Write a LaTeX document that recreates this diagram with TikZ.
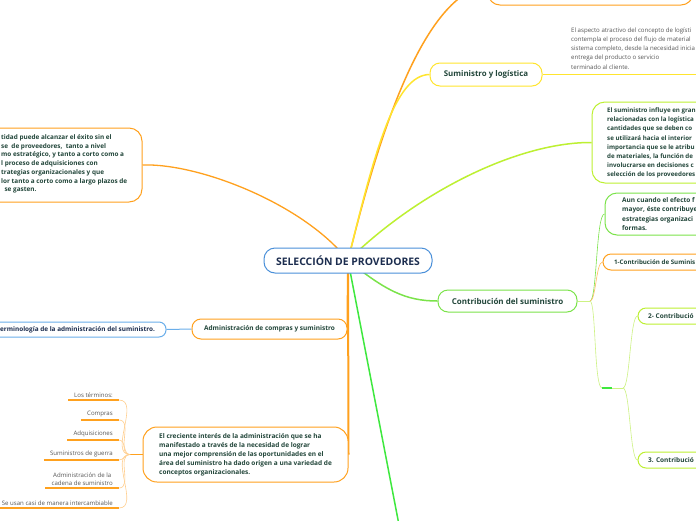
\documentclass[tikz,border=0pt]{standalone}
\usepackage{fontspec}
\setmainfont{Open Sans}
\usetikzlibrary{backgrounds}
\definecolor{orng}{HTML}{FFA11E}
\definecolor{lorng}{HTML}{FFCF8F}
\definecolor{yell}{HTML}{FFE52E}
\definecolor{lime}{HTML}{BDF032}
\definecolor{llime}{HTML}{CDF283}
\definecolor{grn}{HTML}{7BE34A}
\definecolor{brgrn}{HTML}{3EE83E}
\definecolor{cblue}{HTML}{4A90D9}
\definecolor{lblue}{HTML}{6AAEEA}
\definecolor{tgreen}{HTML}{22463A}
\definecolor{navy}{HTML}{1C2D4F}
\definecolor{tgray}{HTML}{555555}
\begin{document}
\begin{tikzpicture}[x=1pt,y=-1pt,
  box/.style={draw, fill=white, rounded corners=9pt, line width=1pt, inner sep=0pt},
  bt/.style={font=\fontsize{6.5}{9.2}\selectfont\bfseries, text=tgreen, align=left, inner sep=0pt},
  gt/.style={font=\fontsize{6.1}{9.2}\selectfont, text=tgray, align=left, inner sep=0pt},
  conn/.style={line width=1.5pt},
  thinc/.style={line width=0.6pt},
  item/.style={gt, inner xsep=6pt, inner ysep=2.5pt, anchor=south east,
    append after command={(\tikzlastnode.south west) edge[draw=orng, line width=1.3pt] (\tikzlastnode.south east)}},
]
\useasboundingbox (0,0) rectangle (696,520);

% central topic
\node[box, draw=cblue, text=navy, font=\fontsize{10.4}{12}\selectfont\bfseries,
  minimum width=168pt, minimum height=25pt, rounded corners=11pt] (c) at (348,260.5) {SELECCIÓN DE PROVEDORES};

% top-left box
\node[box, draw=orng, minimum width=202pt, minimum height=74pt, rounded corners=13pt] (b1) at (41,165) {};
\node[bt, anchor=west, font=\fontsize{6.4}{8.7}\selectfont\bfseries] (b1t) at (1,164) {tidad puede alcanzar el éxito sin el\\se\ \ de proveedores,\ \ tanto a nivel\\mo estratégico, y tanto a corto como a\\l proceso de adquisiciones con\\trategias organizacionales y que\\lor tanto a corto como a largo plazos de\\\ \ se gasten.};

% top box (cut)
\node[box, draw=orng, minimum width=205pt, minimum height=40pt, rounded corners=12pt] (tb) at (590.5,-15) {};

% Suministro y logistica
\node[box, draw=yell, text=tgreen, font=\fontsize{7.9}{9}\selectfont\bfseries,
  minimum width=112pt, minimum height=23pt, rounded corners=10pt] (s) at (486,74.5) {Suministro y logística};
\node[gt, anchor=west] (lt) at (571,48.5) {El aspecto atractivo del concepto de logísti\\contempla el proceso del flujo de material\\sistema completo, desde la necesidad inicia\\entrega del producto o servicio\\terminado al cliente.};
\coordinate (u1) at (568,74.5);
\coordinate (u1e) at (700,74.5);

% El suministro influye
\node[box, draw=lime, minimum width=168pt, minimum height=81pt, rounded corners=13pt] (es) at (676,142.5) {};
\node[bt, anchor=west, font=\fontsize{6.2}{9.2}\selectfont\bfseries] (est) at (607,143) {El suministro influye en gran\\relacionadas con la logística\\cantidades que se deben co\\se utilizará hacia el interior\\importancia que se le atribu\\de materiales, la función de\\involucrarse en decisiones c\\selección de los proveedores};

% Contribucion del suministro
\node[box, draw=grn, text=tgreen, font=\fontsize{8}{9}\selectfont\bfseries,
  minimum width=139pt, minimum height=22pt, rounded corners=10pt] (cs) at (507.5,301) {Contribución del suministro};
\coordinate (brc) at (590,301);
\node[box, draw=grn, minimum width=155pt, minimum height=42pt, rounded corners=12pt] (ac) at (682.5,214) {};
\node[bt, anchor=west, font=\fontsize{6.5}{9.3}\selectfont\bfseries] (act) at (622,214) {Aun cuando el efecto f\\mayor, éste contribuye\\estrategias organizaci\\formas.};
\node[box, draw=orng, minimum width=157pt, minimum height=16pt, rounded corners=8pt] (c1) at (681.5,262) {};
\node[bt, anchor=west, font=\fontsize{6.2}{8}\selectfont\bfseries] (c1t) at (614,262) {1-Contribución de Suminis};
\coordinate (e1) at (602,388);
\coordinate (e2) at (612,388);
\coordinate (br2) at (623,388);
\node[box, draw=lime, minimum width=122pt, minimum height=16pt, rounded corners=8pt] (c2) at (699,316) {};
\node[bt, anchor=west] (c2t) at (648,316) {2- Contribució};
\node[box, draw=lime, minimum width=122pt, minimum height=16pt, rounded corners=8pt] (c3) at (699,460) {};
\node[bt, anchor=west] (c3t) at (648,460) {3. Contribució};

% Administracion
\node[box, draw=orng, text=tgreen, font=\fontsize{6.5}{8}\selectfont\bfseries,
  minimum width=155pt, minimum height=20pt, rounded corners=9pt] (ad) at (269.5,329) {Administración de compras y suministro};
\node[box, draw=lblue, minimum width=186pt, minimum height=15pt, rounded corners=7pt] (tm) at (73,329.5) {};
\node[bt, anchor=west, text=navy, font=\fontsize{6.4}{7}\selectfont\bfseries] (tmt) at (0,329.5) {erminología de la administración del suministro.};

% El creciente interes
\node[box, draw=orng, minimum width=205pt, minimum height=55pt, rounded corners=14pt] (ec) at (245.5,454.5) {};
\node[bt, anchor=west, font=\fontsize{6.5}{9}\selectfont\bfseries] (ect) at (159,455) {El creciente interés de la administración que se ha\\manifestado a través de la necesidad de lograr\\una mejor comprensión de las oportunidades en el\\área del suministro ha dado origen a una variedad de\\conceptos organizacionales.};
\coordinate (brb) at (130,454.5);
\node[item] (i1) at (119,400) {Los términos:};
\node[item] (i2) at (119,420) {Compras};
\node[item] (i3) at (119,440) {Adquisiciones};
\node[item] (i4) at (119,460) {Suministros de guerra};
\node[item, align=center, font=\fontsize{6.1}{8}\selectfont] (i5) at (119,488) {Administración de la\\cadena de suministro};
\node[item] (i6) at (119,508) {Se usan casi de manera intercambiable};

\coordinate (cb) at (400,530);

\begin{scope}[on background layer]
  \fill[white] (0,0) rectangle (696,520);
  % main branches
  \draw[conn, orng, line width=1.3pt] (c.center) .. controls (305,205) and (200,163) .. (b1.east);
  \draw[conn, orng] (c.center) .. controls (375,150) and (420,-5) .. (tb.west);
  \draw[conn, yell] (c.center) .. controls (375,150) and (395,75) .. (s.west);
  \draw[conn, lime] (c.center) .. controls (420,190) and (520,142) .. (es.west);
  \draw[conn, grn] (c.center) .. controls (385,290) and (405,301) .. (cs.west);
  \draw[conn, brgrn] (c.center) -- (cb);
  \draw[conn, orng, line width=2pt] (c.center) -- (ad.east);
  \draw[conn, orng, line width=2pt] (c.center) -- (ec.east);
  % sub branches
  \draw[yell, line width=1.5pt] (s.east) -- (u1) -- (u1e);
  \draw[llime, line width=1pt] (cs.east) -- (brc);
  \draw[grn, thinc] (brc) .. controls (597,301) and (596,214) .. (ac.west);
  \draw[orng!70, thinc] (brc) .. controls (596,301) and (596,262) .. (c1.west);
  \draw[llime, thinc] (brc) .. controls (596,301) and (594,388) .. (e1);
  \draw[brgrn, line width=1.5pt] (e1) -- (e2);
  \draw[llime, thinc] (e2) -- (br2);
  \draw[llime, thinc] (br2) .. controls (630,388) and (630,316) .. (c2.west);
  \draw[llime, thinc] (br2) .. controls (630,388) and (630,460) .. (c3.west);
  \draw[lblue, line width=1pt] (ad.west) -- (tm.east);
  \draw[orng, line width=1pt] (ec.west) -- (brb);
  \foreach \n in {i1,i2,i3,i4,i5,i6}
    \draw[lorng, thinc] (brb) to[out=180,in=0] (\n.south east);
\end{scope}
\end{tikzpicture}
\end{document}
